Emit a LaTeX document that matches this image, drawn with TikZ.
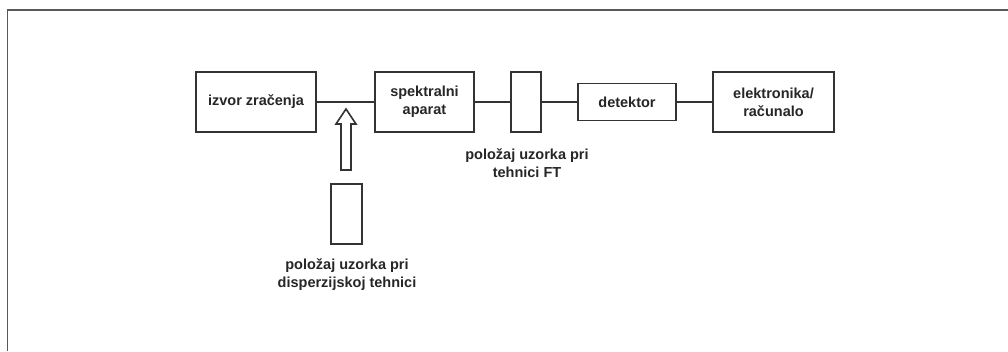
\documentclass[tikz,border=0pt]{standalone}
\usepackage{fontspec}
\setmainfont{Liberation Sans}
\begin{document}
\begin{tikzpicture}[x=1pt,y=-1pt,
  line/.style={draw=black!80, line width=1.6pt},
  blk/.style={line, rectangle, inner sep=0pt, align=center,
    font=\bfseries\fontsize{14.5}{18}\selectfont, text=black!85},
  lbl/.style={inner sep=0pt, align=center,
    font=\bfseries\fontsize{14.5}{18}\selectfont, text=black!85}]
\useasboundingbox (0,0) rectangle (1008,351);
\fill[white] (0,0) rectangle (1008,351);
\draw[draw=black!65, line width=1.8pt] (7.5,351) -- (7.5,10) -- (1008,10);
% blocks
\node[blk, minimum width=120pt, minimum height=60pt] (izvor) at (256,102) {izvor zračenja};
\node[blk, minimum width=99pt, minimum height=60pt] (spek) at (424.5,102) {spektralni\\aparat};
\node[blk, minimum width=30pt, minimum height=60pt] (ft) at (526,102) {};
\node[blk, minimum width=98pt, minimum height=37pt] (det) at (627,102) {detektor};
\node[blk, minimum width=121pt, minimum height=60pt] (el) at (773.5,102) {elektronika/\\računalo};
\node[blk, minimum width=31pt, minimum height=60pt] (disp) at (346.5,214) {};
% connectors
\draw[line] (izvor.east) -- (spek.west);
\draw[line] (spek.east) -- (ft.west);
\draw[line] (ft.east) -- (det.west);
\draw[line] (det.east) -- (el.west);
% hollow arrow
\coordinate (tip) at (346,109);
\draw[line, fill=white] (tip) -- (356,124) -- (351,124) -- (351,170) -- (341,170) -- (341,124) -- (336,124) -- cycle;
% labels
\node[lbl] (ftl) at (527,163) {položaj uzorka pri\\tehnici FT};
\node[lbl] (displ) at (347,275) {položaj uzorka pri\\disperzijskoj tehnici};
\end{tikzpicture}
\end{document}
